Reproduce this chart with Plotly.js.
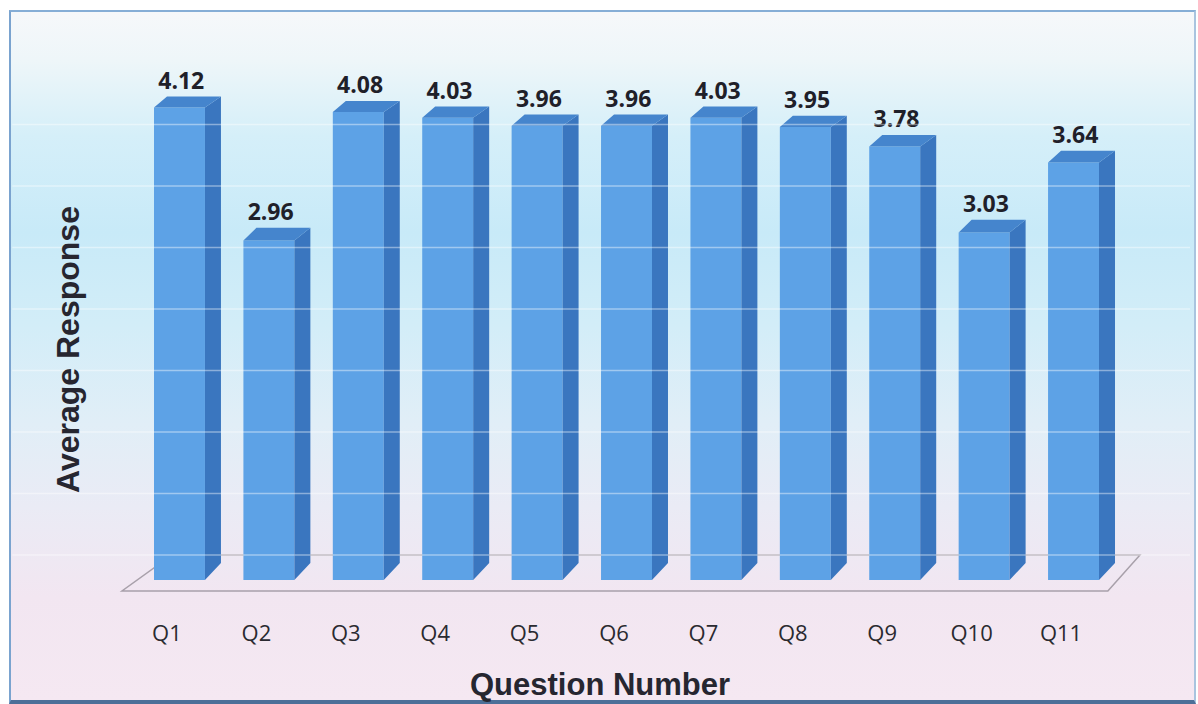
<!DOCTYPE html>
<html>
<head>
<meta charset="utf-8">
<script src="https://cdn.plot.ly/plotly-3.0.1.min.js"></script>
<style>
  html, body { margin: 0; padding: 0; background: #ffffff; }
  #wrap { position: relative; width: 1198px; height: 704px; overflow: hidden; }
  #frame {
    position: absolute; left: 9px; top: 10px; width: 1183px; height: 688px;
    border-left: 2px solid #7aa3cf; border-top: 2px solid #86aed6;
    border-right: 2px solid #a9c4df; border-bottom: 4px solid #4d6f98;
    background: linear-gradient(to bottom,
      #f6f8fa 0%, #eef6f9 7%, #d5eff9 18%, #c8eaf8 32%, #d2edf8 45%,
      #e1eef7 60%, #eaebf5 72%, #f2e6f1 85%, #f5e8f2 100%);
  }
  #chart { position: absolute; left: 0; top: 0; width: 1198px; height: 704px; }
</style>
</head>
<body>
<div id="wrap">
  <div id="frame"></div>
  <div id="chart"></div>
</div>
<script>
// ---- data ----
const categories = ['Q1', 'Q2', 'Q3', 'Q4', 'Q5', 'Q6', 'Q7', 'Q8', 'Q9', 'Q10', 'Q11'];
const values = [4.12, 2.96, 4.08, 4.03, 3.96, 3.96, 4.03, 3.95, 3.78, 3.03, 3.64];
const valueLabels = ['4.12', '2.96', '4.08', '4.03', '3.96', '3.96', '4.03', '3.95', '3.78', '3.03', '3.64'];
const xTitle = 'Question Number';
const yTitle = 'Average Response';

// ---- pseudo-3D styling (pixel sizes converted to axis units) ----
const PX_X = 89.4, PX_Y = 114.7;
const BAR_W = 0.57;
const DX_R = 16 / PX_X, DX_L = 13 / PX_X;
const depthBottom = 17 / PX_Y;
function depthAt(v) { return (17 - 1.45 * v) / PX_Y; }

const xs = categories.map((c, i) => i);
const sideX = [], sideY = [], topX = [], topY = [], lblX = [], lblY = [];
values.forEach((v, i) => {
  const L = i - BAR_W / 2, R = i + BAR_W / 2, d = depthAt(v);
  sideX.push(R, R + DX_R, R + DX_R, R, R, null);
  sideY.push(0, depthBottom, v + d, v, 0, null);
  topX.push(L, L + DX_L, R + DX_R, R, L, null);
  topY.push(v, v + d, v + d, v, v, null);
  lblX.push(i + 0.02);
  lblY.push(v + d + 2 / PX_Y);
});

const traces = [
  { type: 'bar', x: xs, y: values, width: BAR_W, base: 0,
    marker: { color: '#5da2e6', line: { width: 0 } }, hoverinfo: 'skip', showlegend: false },
  { type: 'scatter', mode: 'lines', x: sideX, y: sideY, fill: 'toself', fillcolor: '#3a76bf',
    line: { width: 0 }, hoverinfo: 'skip', showlegend: false },
  { type: 'scatter', mode: 'lines', x: topX, y: topY, fill: 'toself', fillcolor: '#4585cd',
    line: { width: 0 }, hoverinfo: 'skip', showlegend: false },
  { type: 'scatter', mode: 'text', x: lblX, y: lblY, text: valueLabels, textposition: 'top center',
    textfont: { family: 'Open Sans', size: 23, color: '#1f2029', weight: 'bold' },
    cliponaxis: false, hoverinfo: 'skip', showlegend: false }
];

// floor outline and faint horizontal lines
const shapes = [{
  type: 'path', xref: 'x', yref: 'y', layer: 'below',
  path: 'M -0.643,-0.096 L 10.384,-0.096 L 10.743,0.218 L -0.084,0.218 Z',
  line: { color: '#a8a0aa', width: 1.5 }, fillcolor: 'rgba(0,0,0,0)'
}];
[0, 0.5, 1, 1.5, 2, 2.5, 3, 3.5].forEach(g => {
  shapes.push({ type: 'line', xref: 'paper', yref: 'y2', layer: 'above',
    x0: -0.082, x1: 1.0187, y0: g, y1: g,
    line: { color: 'rgba(255,255,255,0.42)', width: 1.5 } });
});

const titleFont = { family: 'Liberation Sans', size: 31, color: '#262630', weight: 'bold' };

const layout = {
  width: 1198, height: 704,
  margin: { l: 100, r: 28, t: 90, b: 94 },
  paper_bgcolor: 'rgba(0,0,0,0)', plot_bgcolor: 'rgba(0,0,0,0)',
  showlegend: false,
  xaxis: {
    range: [-0.889, 11.079], showgrid: false, zeroline: false, showline: false,
    tickmode: 'array', tickvals: xs.map(i => i - 0.14), ticktext: categories,
    ticks: 'outside', ticklen: 4, tickcolor: 'rgba(0,0,0,0)',
    tickfont: { family: 'Open Sans', size: 22, color: '#2a2a30' },
    fixedrange: true
  },
  yaxis: {
    range: [-0.2616, 4.272], showgrid: false, zeroline: false, showline: false,
    showticklabels: false, ticks: '', fixedrange: true
  },
  yaxis2: {
    overlaying: 'y', range: [-0.447, 3.780], visible: false, showgrid: false, fixedrange: true
  },
  annotations: [
    { text: yTitle, xref: 'paper', yref: 'paper', x: -0.0299, y: 0.5, textangle: -90,
      xanchor: 'center', yanchor: 'middle', showarrow: false,
      font: Object.assign({}, titleFont, { size: 32 }) },
    { text: xTitle, xref: 'paper', yref: 'paper', x: 0.467, y: -0.1442,
      xanchor: 'center', yanchor: 'middle', showarrow: false, font: titleFont }
  ],
  shapes: shapes
};

Plotly.newPlot('chart', traces, layout, { staticPlot: true, displayModeBar: false });
</script>
</body>
</html>
